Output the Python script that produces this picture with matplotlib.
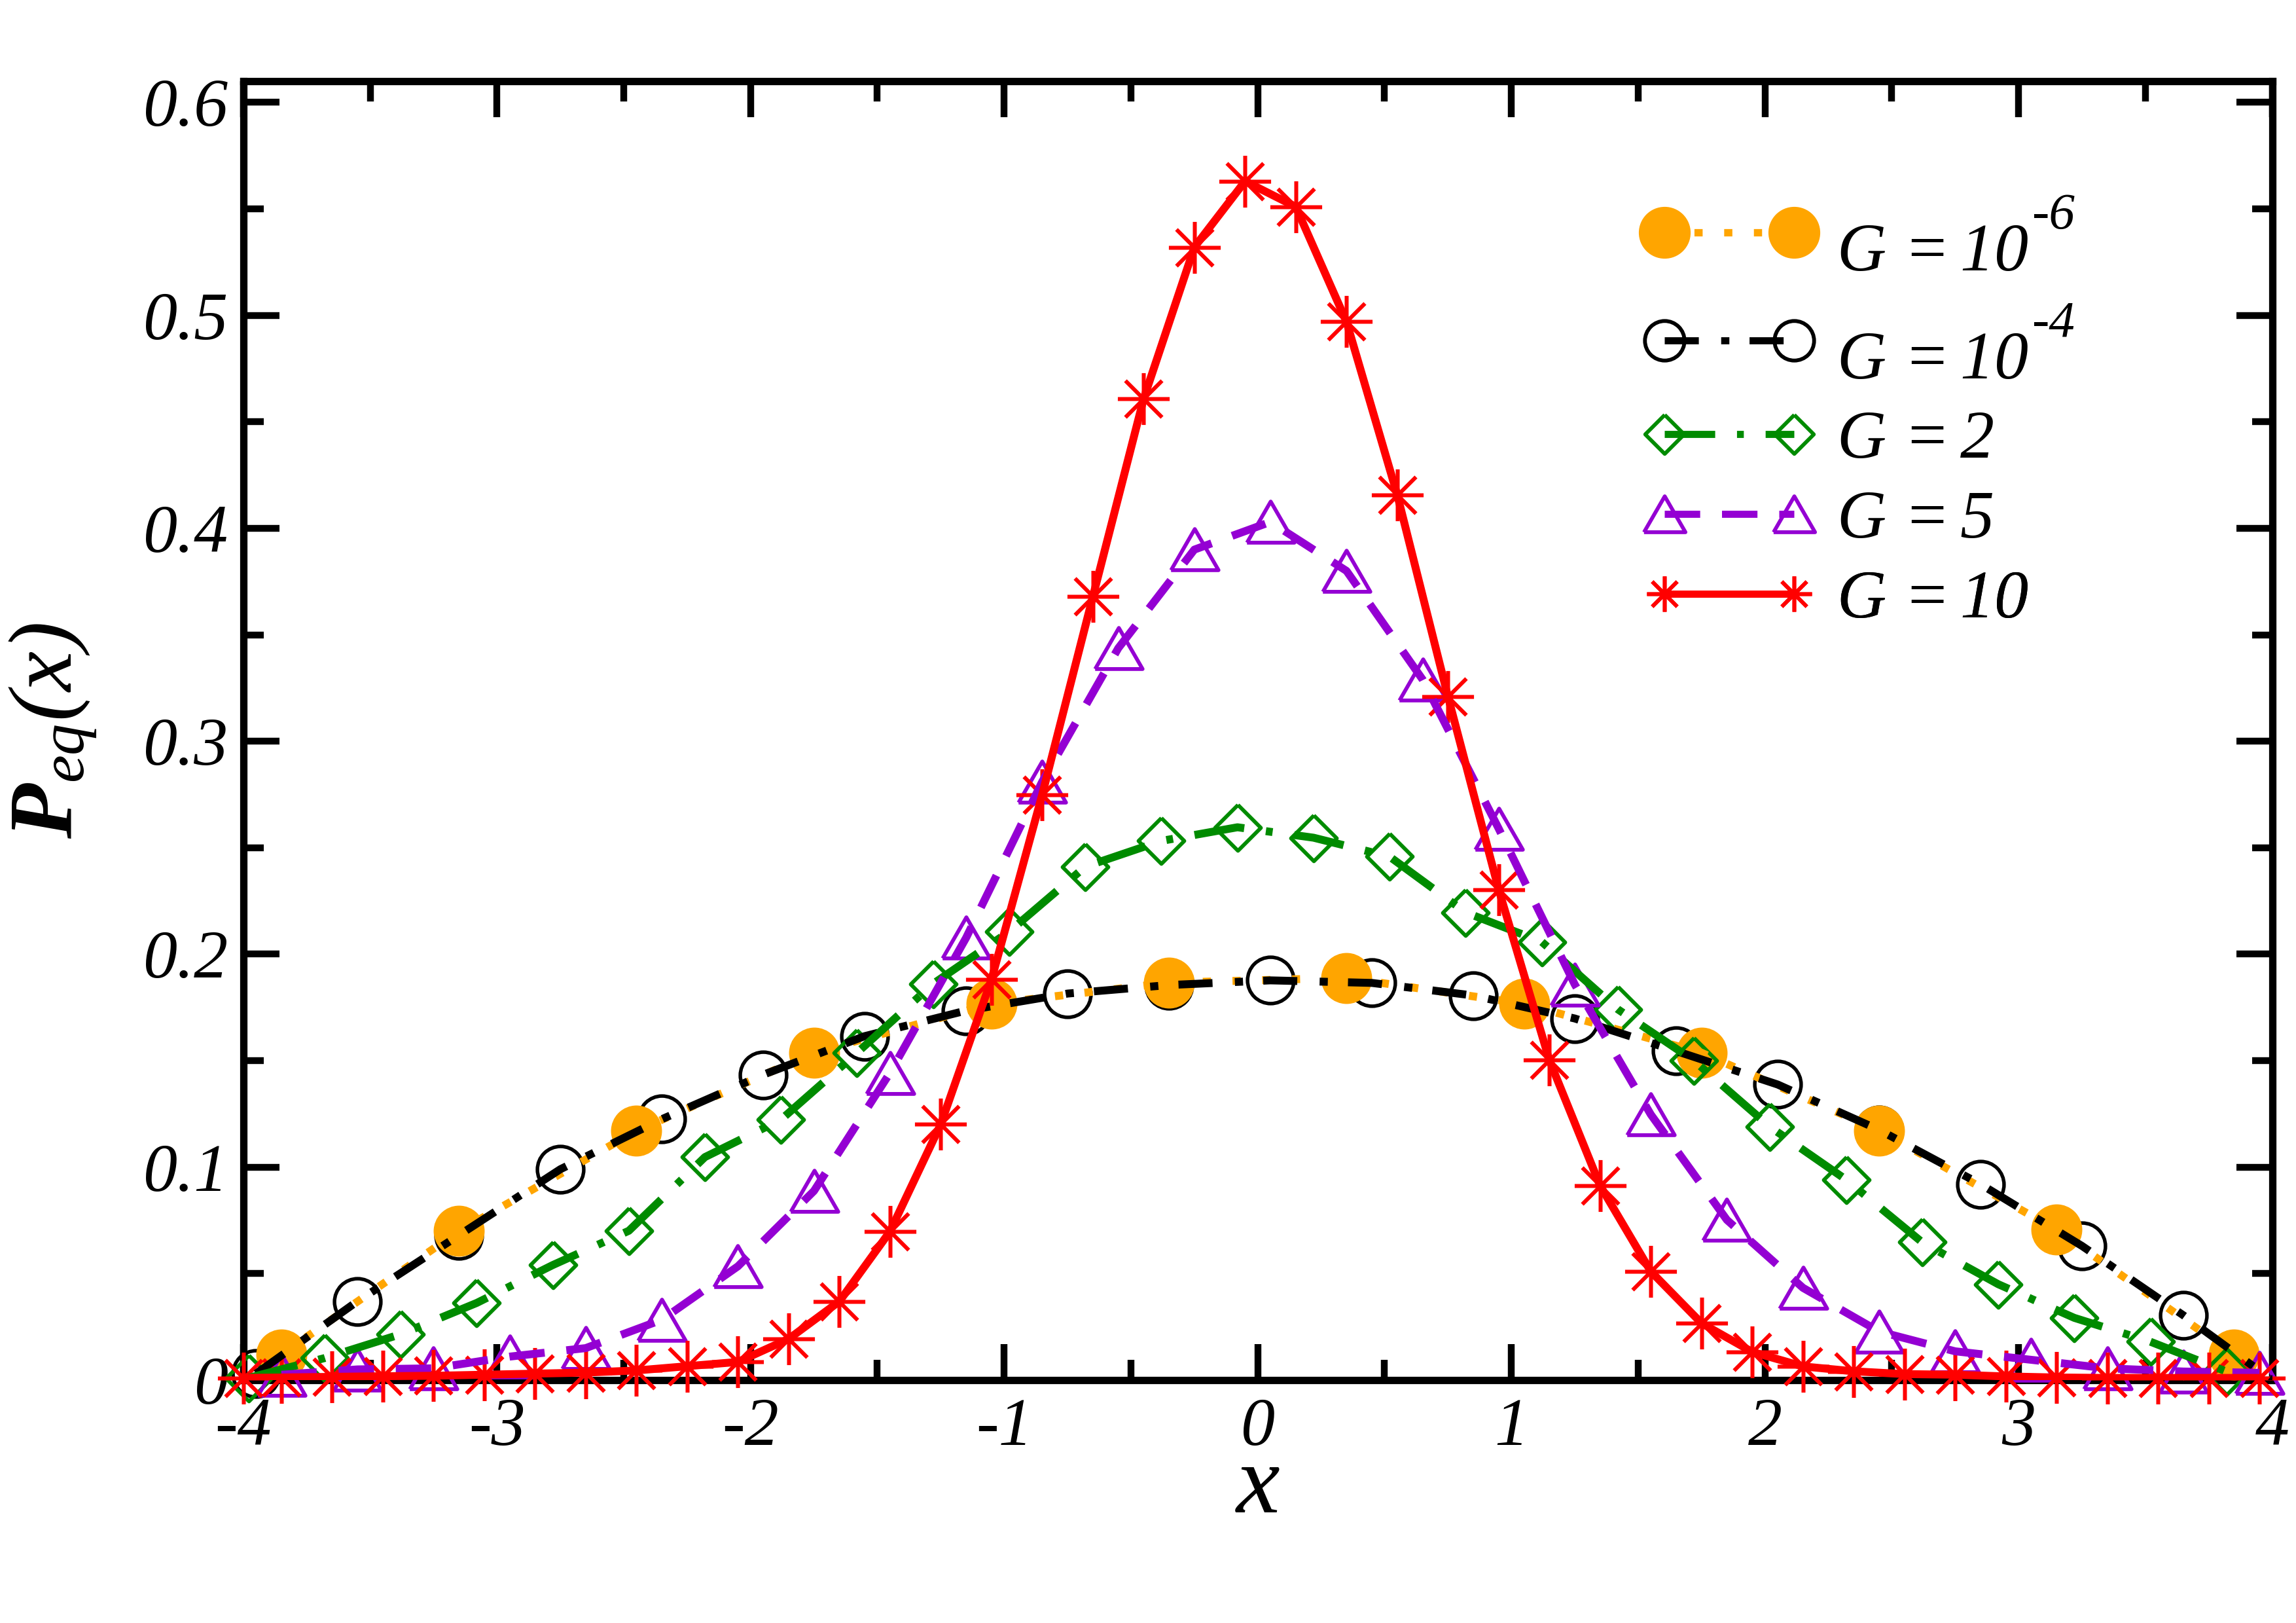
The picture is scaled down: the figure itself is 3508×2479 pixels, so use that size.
import matplotlib
matplotlib.use('Agg')
import matplotlib.pyplot as plt
from matplotlib.lines import Line2D
from matplotlib.path import Path
from matplotlib.ticker import MultipleLocator, FuncFormatter

rc = {
    'font.family': ['Liberation Serif', 'DejaVu Serif'],
    'font.style': 'italic',
    'mathtext.fontset': 'custom',
    'mathtext.rm': 'Liberation Serif',
    'mathtext.it': 'Liberation Serif:italic',
    'mathtext.bf': 'Liberation Serif:bold',
    'mathtext.sf': 'Liberation Serif',
    'mathtext.tt': 'Liberation Mono',
    'mathtext.cal': 'Liberation Serif:italic',
    'axes.unicode_minus': False,
    'lines.scale_dashes': False,
}
plt.rcParams.update(rc)
HAS_BFIT = 'mathtext.bfit' in plt.rcParams
if HAS_BFIT:
    plt.rcParams['mathtext.bfit'] = 'Liberation Serif:italic:bold'

# ---------------- data ----------------
g6_x = [-3.85, -3.15, -2.45, -1.75, -1.05, -0.35, 0.35, 1.05, 1.75, 2.45, 3.15, 3.85]
g6_y = [0.012, 0.070, 0.117, 0.1537, 0.1767, 0.1866, 0.1889, 0.1767, 0.1537, 0.1172, 0.0706, 0.012]

g4_x = [-3.95, -3.55, -3.15, -2.75, -2.35, -1.95, -1.55, -1.15, -0.75, -0.35,
        0.05, 0.45, 0.85, 1.25, 1.65, 2.05, 2.45, 2.85, 3.25, 3.65]
g4_y = [0.003, 0.037, 0.068, 0.099, 0.1225, 0.1434, 0.1615, 0.1735, 0.1815, 0.1855,
        0.1877, 0.1865, 0.1806, 0.1698, 0.1545, 0.1388, 0.1175, 0.092, 0.063, 0.0304]
g4_line_x = g4_x + [4.0]
g4_line_y = g4_y + [0.0]

g2_x = [-3.98, -3.68, -3.38, -3.08, -2.78, -2.48, -2.18, -1.88, -1.58, -1.28, -0.98,
        -0.68, -0.38, -0.08, 0.22, 0.52, 0.82, 1.12, 1.42, 1.72, 2.02, 2.32, 2.62,
        2.92, 3.22, 3.52, 3.82]
g2_y = [0.001, 0.0103, 0.0215, 0.0362, 0.054, 0.0701, 0.1047, 0.1223, 0.1537, 0.1861,
        0.2106, 0.2411, 0.2532, 0.2596, 0.2547, 0.2458, 0.2196, 0.2058, 0.1741, 0.150,
        0.1189, 0.0941, 0.0647, 0.045, 0.0292, 0.018, 0.004]

g5_x = [-3.85, -3.55, -3.25, -2.95, -2.65, -2.35, -2.05, -1.75, -1.45, -1.15, -0.85,
        -0.55, -0.25, 0.05, 0.35, 0.65, 0.95, 1.25, 1.55, 1.85, 2.15, 2.45, 2.75,
        3.05, 3.35, 3.65, 3.95]
g5_y = [0.0025, 0.005, 0.0055, 0.011, 0.015, 0.0283, 0.0534, 0.0888, 0.1443, 0.2077,
        0.281, 0.3437, 0.390, 0.403, 0.380, 0.329, 0.259, 0.1858, 0.1247, 0.0752,
        0.0433, 0.0228, 0.0135, 0.0095, 0.0055, 0.004, 0.0034]

g10_x = [-4.0, -3.85, -3.65, -3.45, -3.25, -3.05, -2.85, -2.65, -2.45, -2.25, -2.05,
         -1.85, -1.65, -1.45, -1.25, -1.05, -0.85, -0.65, -0.45, -0.25, -0.05, 0.15,
         0.35, 0.55, 0.75, 0.95, 1.15, 1.35, 1.55, 1.75, 1.95, 2.15, 2.35, 2.55, 2.75,
         2.95, 3.15, 3.35, 3.55, 3.75, 3.95]
g10_y = [0.001, 0.0012, 0.0015, 0.0018, 0.002, 0.0025, 0.003, 0.0035, 0.0045, 0.0065,
         0.0085, 0.0193, 0.0369, 0.0698, 0.1201, 0.1881, 0.2749, 0.368, 0.4608, 0.532,
         0.563, 0.551, 0.497, 0.4158, 0.321, 0.2304, 0.1502, 0.0913, 0.051, 0.0267,
         0.0132, 0.0064, 0.0041, 0.0028, 0.0025, 0.0017, 0.0012, 0.001, 0.001, 0.001,
         0.001]

# legend texts: G value (mantissa) and its superscript (exponent)
legend_value = ['10', '10', '2', '5', '10']
legend_exp = ['-6', '-4', None, None, None]
xticks = [-4, -3, -2, -1, 0, 1, 2, 3, 4]
yticks = [0, 0.1, 0.2, 0.3, 0.4, 0.5, 0.6]

# ---------------- styles ----------------
ORANGE = '#FFA500'
BLACK = '#000000'
GREEN = '#008B00'
PURPLE = '#9400D3'
RED = '#FF0000'

diamond = [(0, 1), (1, 0), (0, -1), (-1, 0), (0, 1)]
triangle = [(-1, -0.866), (1, -0.866), (0, 0.866), (-1, -0.866)]
c45 = 0.7071
star = Path([(-1, 0), (1, 0), (0, -1), (0, 1), (-c45, -c45), (c45, c45), (-c45, c45), (c45, -c45)],
            [Path.MOVETO, Path.LINETO] * 4)

W_PX, H_PX = 3508, 2479
fig = plt.figure(figsize=(W_PX / 300, H_PX / 300), dpi=300)
AX_L, AX_B, AX_W, AX_H = 0.1060, 0.1497, 0.8836, 0.8003
ax = fig.add_axes([AX_L, AX_B, AX_W, AX_H])

LW = 2.9
# markers (below lines)
ax.plot(g4_x, g4_y, ls='none', marker='o', ms=17.0, mfc='none', mec=BLACK, mew=1.3,
        clip_on=False, zorder=3.0)
ax.plot(g6_x, g6_y, ls='none', marker='o', ms=18.7, mfc=ORANGE, mec=ORANGE, mew=0,
        clip_on=False, zorder=3.1)
ax.plot(g2_x, g2_y, ls='none', marker=diamond, ms=16.8, mfc='none', mec=GREEN, mew=1.4,
        clip_on=False, zorder=3.2)
ax.plot(g5_x, g5_y, ls='none', marker=triangle, ms=17.4, mfc='none', mec=PURPLE, mew=1.4,
        clip_on=False, zorder=3.3)
ax.plot(g10_x, g10_y, ls='none', marker=star, ms=19.0, mfc='none', mec=RED, mew=1.45,
        clip_on=False, zorder=3.4)

# lines (above markers)
ax.plot(g6_x, g6_y, color=ORANGE, lw=LW, dashes=(3.0, 7.9), zorder=4.0)
ax.plot(g4_line_x, g4_line_y, color=BLACK, lw=LW, dashes=(12.5, 8.2, 3.0, 7.4), zorder=4.1)
ax.plot(g2_x, g2_y, color=GREEN, lw=LW, dashes=(18.5, 8.0, 2.5, 8.0), zorder=4.2)
ax.plot(g5_x, g5_y, color=PURPLE, lw=LW, dashes=(13.0, 8.0), zorder=4.3)
ax.plot(g10_x, g10_y, color=RED, lw=LW, ls='-', zorder=4.4)

# legend proxies
handles = [
    Line2D([], [], color=ORANGE, lw=2.7, dashes=(3.0, 7.9), marker='o', ms=19, mfc=ORANGE,
           mec=ORANGE, mew=0),
    Line2D([], [], color=BLACK, lw=2.6, dashes=(12.5, 8.2, 3.0, 7.4), marker='o', ms=14.5,
           mfc='none', mec=BLACK, mew=1.4),
    Line2D([], [], color=GREEN, lw=2.6, dashes=(18.5, 8.0, 2.5, 8.0), marker=diamond, ms=14.3,
           mfc='none', mec=GREEN, mew=1.4),
    Line2D([], [], color=PURPLE, lw=2.6, dashes=(13.0, 8.0), marker=triangle, ms=15.2,
           mfc='none', mec=PURPLE, mew=1.4),
    Line2D([], [], color=RED, lw=2.6, ls='-', marker=star, ms=13.0, mfc='none', mec=RED,
           mew=1.4),
]

# one legend per row so that each row sits where the reference has it
LEG_FS = 25
fs_px = LEG_FS * 300 / 72.0
AX_TOP_PX = H_PX * (1 - AX_B - AX_H)
AX_BOT_PX = H_PX * (1 - AX_B)
AX_H_PX = AX_BOT_PX - AX_TOP_PX
row_baseline_px = [413, 578, 697, 819, 941]  # image rows (from top) of text baselines
TEXT_DESC = 24.0
legends = []
for i in range(5):
    hh = 2.08 if legend_exp[i] else 0.7
    hdesc = 0.35 * fs_px * (hh - 0.7)
    d = max(TEXT_DESC, hdesc)
    yfrac = (AX_BOT_PX - (row_baseline_px[i] + d)) / AX_H_PX
    lab = r'$\mathit{G}\,=\mathit{%s}$' % legend_value[i]
    lg = ax.legend([handles[i]], [lab], loc='lower left', bbox_to_anchor=(0.6904, yfrac),
                   frameon=False, fontsize=LEG_FS, numpoints=2, handlelength=2.5,
                   handleheight=hh, handletextpad=0.32, borderpad=0, borderaxespad=0)
    lg.set_zorder(6)
    ax.add_artist(lg)
    legends.append(lg)

# axes
ax.set_xlim(-4, 4)
ax.set_ylim(0, 0.61)
ax.set_xticks(xticks)
ax.set_yticks(yticks)
ax.xaxis.set_minor_locator(MultipleLocator(0.5))
ax.yaxis.set_minor_locator(MultipleLocator(0.05))
ax.xaxis.set_major_formatter(FuncFormatter(lambda v, p: '%d' % int(round(v))))
ax.yaxis.set_major_formatter(FuncFormatter(lambda v, p: '0' if abs(v) < 1e-9 else '%.1f' % v))

for s in ax.spines.values():
    s.set_linewidth(2.7)
    s.set_zorder(2.5)
ax.tick_params(which='both', direction='in', top=True, right=True, width=2.5, labelsize=25)
ax.tick_params(which='major', length=13.2)
ax.tick_params(which='minor', length=7.4)
ax.tick_params(axis='x', which='both', pad=6.5)
ax.tick_params(axis='y', which='both', pad=5.5)

ax.set_xlabel(r'$\mathit{x}$', fontsize=36)
ax.xaxis.set_label_coords(0.5, -0.049)
if HAS_BFIT:
    ylab = r'$\mathbfit{P}_{\mathit{eq}}\mathit{(x)}$'
else:
    ylab = r'$\mathbf{P}_{\mathit{eq}}\mathit{(x)}$'
ax.set_ylabel(ylab, fontsize=33)
ax.yaxis.set_label_coords(-0.0716, 0.5)

# superscripts of the legend labels, placed after the base text
fig.canvas.draw()
for i, lg in enumerate(legends):
    if legend_exp[i]:
        bb = lg.get_texts()[0].get_window_extent()
        xs = (bb.x1 + 6) / W_PX
        ys = 1 - (row_baseline_px[i] - 64) / H_PX
        fig.text(xs, ys, legend_exp[i], fontsize=19, family='Liberation Serif',
                 style='italic', ha='left', va='baseline', zorder=7)

fig.savefig('out.png', dpi=300)
